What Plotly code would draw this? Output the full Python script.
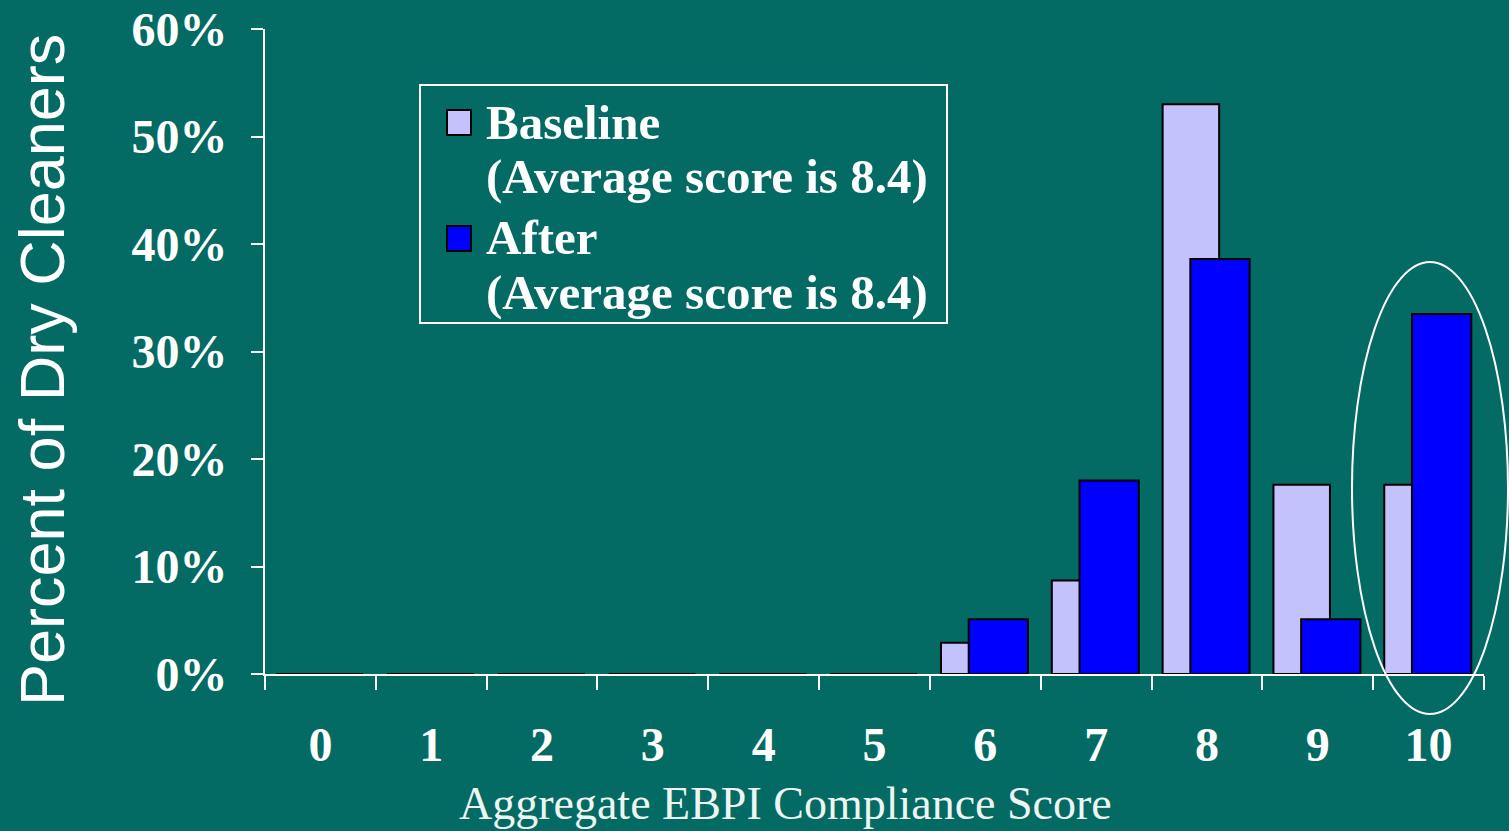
import plotly.graph_objects as go

# ---- data ----
scores = ["0", "1", "2", "3", "4", "5", "6", "7", "8", "9", "10"]
baseline_pct = [0, 0, 0, 0, 0, 0, 2.9, 8.7, 53.0, 17.6, 17.6]
after_pct = [0, 0, 0, 0, 0, 0, 5.1, 18.0, 38.6, 5.1, 33.5]
y_ticks = [0, 10, 20, 30, 40, 50, 60]
y_ticktext = ["0%", "10%", "20%", "30%", "40%", "50%", "60%"]
legend_lines = ["Baseline", "(Average score is 8.4)", "After", "(Average score is 8.4)"]
x_title = "Aggregate EBPI Compliance Score"
y_title = "Percent of Dry Cleaners"

# ---- style ----
W, H = 1509, 831
ML, MR, MT, MB = 265, 25, 29, 157
BG = "#046a64"
BASE_C = "#c4c2fc"
AFTER_C = "#0000ff"
SERIF = "Liberation Serif"

pw = W - ML - MR
ph = H - MT - MB


def px(x):
    return (x - ML) / pw


def py(y):
    return (H - MB - y) / ph


fig = go.Figure()
fig.add_trace(go.Bar(
    x=scores, y=baseline_pct, name="Baseline",
    width=0.51, offset=-0.40,
    marker=dict(color=BASE_C, line=dict(color="black", width=2)),
    showlegend=False,
))
fig.add_trace(go.Bar(
    x=scores, y=after_pct, name="After",
    width=0.535, offset=-0.15,
    marker=dict(color=AFTER_C, line=dict(color="black", width=2)),
    showlegend=False,
))

axis_font = dict(family=SERIF, size=48, color="white", weight="bold")

fig.update_layout(
    width=W, height=H,
    margin=dict(l=ML, r=MR, t=MT, b=MB, pad=0, autoexpand=False),
    paper_bgcolor=BG, plot_bgcolor=BG,
    barmode="overlay",
    xaxis=dict(
        type="category", categoryorder="array", categoryarray=scores,
        range=[-0.5, 10.5], tickson="boundaries", automargin=False,
        showline=True, linecolor="white", linewidth=2,
        ticks="outside", ticklen=14, tickwidth=2, tickcolor="white",
        showgrid=False, zeroline=False,
        tickfont=axis_font, ticklabelstandoff=27,
    ),
    yaxis=dict(
        range=[0, 60], tickvals=y_ticks, ticktext=y_ticktext, automargin=False,
        showline=True, linecolor="white", linewidth=2,
        ticks="outside", ticklen=12, tickwidth=2, tickcolor="white",
        showgrid=False, zeroline=False,
        tickfont=axis_font, ticklabelstandoff=14,
    ),
)

# highlight ellipse around score 10
fig.add_shape(type="circle", xref="paper", yref="paper",
              x0=px(1352), x1=px(1508), y0=py(714), y1=py(262),
              line=dict(color="white", width=2), layer="above")

# legend box
fig.add_shape(type="rect", xref="paper", yref="paper",
              x0=px(420), x1=px(947), y0=py(323), y1=py(85),
              line=dict(color="white", width=2), fillcolor="rgba(0,0,0,0)")
fig.add_shape(type="rect", xref="paper", yref="paper",
              x0=px(447), x1=px(471), y0=py(135), y1=py(110),
              line=dict(color="black", width=2), fillcolor=BASE_C)
fig.add_shape(type="rect", xref="paper", yref="paper",
              x0=px(447), x1=px(471), y0=py(251), y1=py(226),
              line=dict(color="black", width=2), fillcolor=AFTER_C)
for txt, yc in zip(legend_lines, [122, 176, 238, 292]):
    fig.add_annotation(text=txt, xref="paper", yref="paper",
                       x=px(484), y=py(yc), xanchor="left", yanchor="middle",
                       showarrow=False,
                       font=dict(family=SERIF, size=49, color="white", weight="bold"))

# axis titles
fig.add_annotation(text=x_title, xref="paper", yref="paper",
                   x=px(785), y=py(803), xanchor="center", yanchor="middle",
                   showarrow=False,
                   font=dict(family=SERIF, size=46, color="#eef4f2"))
fig.add_annotation(text=y_title, xref="paper", yref="paper",
                   x=px(42), y=py(370), xanchor="center", yanchor="middle",
                   textangle=-90, showarrow=False,
                   font=dict(family="Liberation Sans", size=63, color="white"))

fig.write_html("out.html", config={"displayModeBar": False},
               post_script="document.body.style.margin='0';document.body.style.overflow='hidden';")
